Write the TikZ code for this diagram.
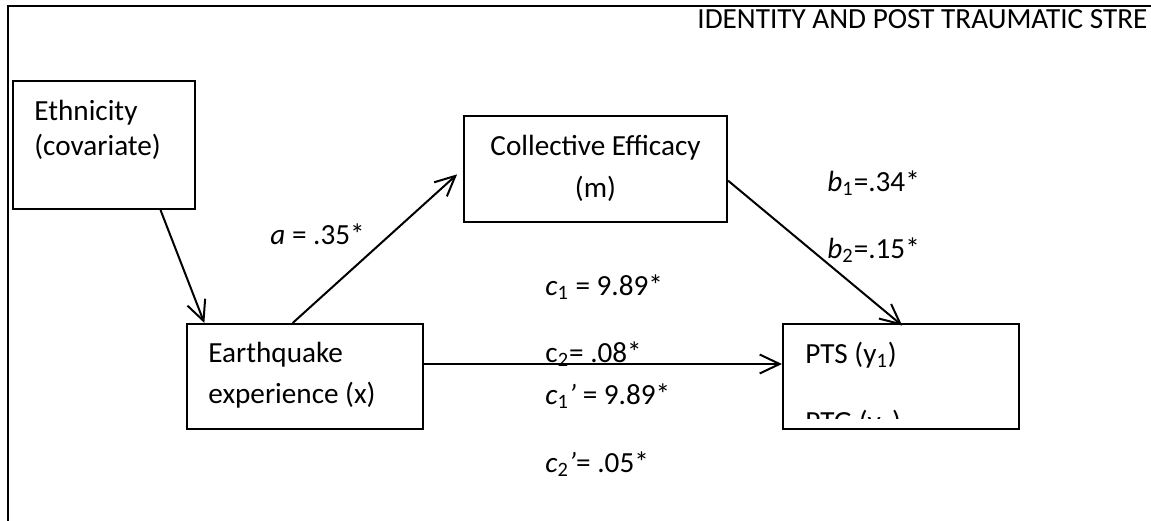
\documentclass[tikz,border=0pt]{standalone}
\usepackage{fontspec}
\setmainfont{Carlito}
\usetikzlibrary{arrows.meta}
\begin{document}
\begin{tikzpicture}[
  x=0.5pt, y=-0.5pt,
  box/.style={draw, line width=1pt, inner sep=0pt},
  boxtxt/.style={inner sep=0pt, anchor=north west, align=left, font=\fontsize{14.6}{#1}\selectfont},
  lbl/.style={inner sep=0pt, anchor=base west, font=\fontsize{14.6}{17.5}\selectfont},
  arrow/.style={-{Straight Barb[length=10pt, width=9.5pt]}, line width=1pt},
  frame/.style={line width=1.2pt}
]
\clip (0,0) rectangle (1151,520);
\draw[frame] (8,530) |- (1160,6);
\node[lbl] (head) at (697,28) {IDENTITY AND POST TRAUMATIC STRE};

\node[box, minimum width=91pt, minimum height=64pt] (eth) at (104,145) {};
\node[box, minimum width=131.5pt, minimum height=53pt] (coll) at (595.5,169) {};
\node[box, minimum width=118pt, minimum height=52.5pt] (eq) at (305,376.5) {};
\node[box, minimum width=118pt, minimum height=52.5pt] (pts) at (901,376.5) {};

\node[boxtxt=17.5pt] (ethtxt) at (34,95.5) {\strut Ethnicity\\\strut(covariate)};
\node[boxtxt=21pt, anchor=north, align=center] (colltxt) at (595.5,125.6) {\strut Collective Efficacy\\\strut(m)};
\node[boxtxt=20.5pt] (eqtxt) at (208,333.3) {\strut Earthquake\\\strut experience (x)};
\begin{scope}
  \clip (783,330) rectangle (1019,418);
  \node[boxtxt=34pt] (ptstxt) at (805,315.4) {\strut PTS (y\textsubscript{1})\\\strut PTG (y\textsubscript{2})};
\end{scope}

\node[lbl] (a) at (270,244) {\textit{a} = .35*};
\node[lbl] (b1) at (827,191) {\textit{b}\textsubscript{1}=.34*};
\node[lbl] (b2) at (827,258) {\textit{b}\textsubscript{2}=.15*};
\node[lbl] (c1) at (545,295) {\textit{c}\textsubscript{1} = 9.89*};
\node[lbl] (c2) at (545,362) {c\textsubscript{2}= .08*};
\node[lbl] (c1p) at (545,404) {\textit{c}\textsubscript{1}\textit{’} = 9.89*};
\node[lbl] (c2p) at (545,472) {\textit{c}\textsubscript{2}\textit{’}= .05*};

\draw[arrow] (eth.-49) -- (eq.152);
\draw[arrow, shorten >=4pt] (eq.103) -- (coll.west);
\draw[arrow, shorten >=-2pt] (coll.-5) -- (pts.92);
\draw[arrow] (eq.6.5) -- (eq.6.5 -| pts.west);
\end{tikzpicture}
\end{document}
